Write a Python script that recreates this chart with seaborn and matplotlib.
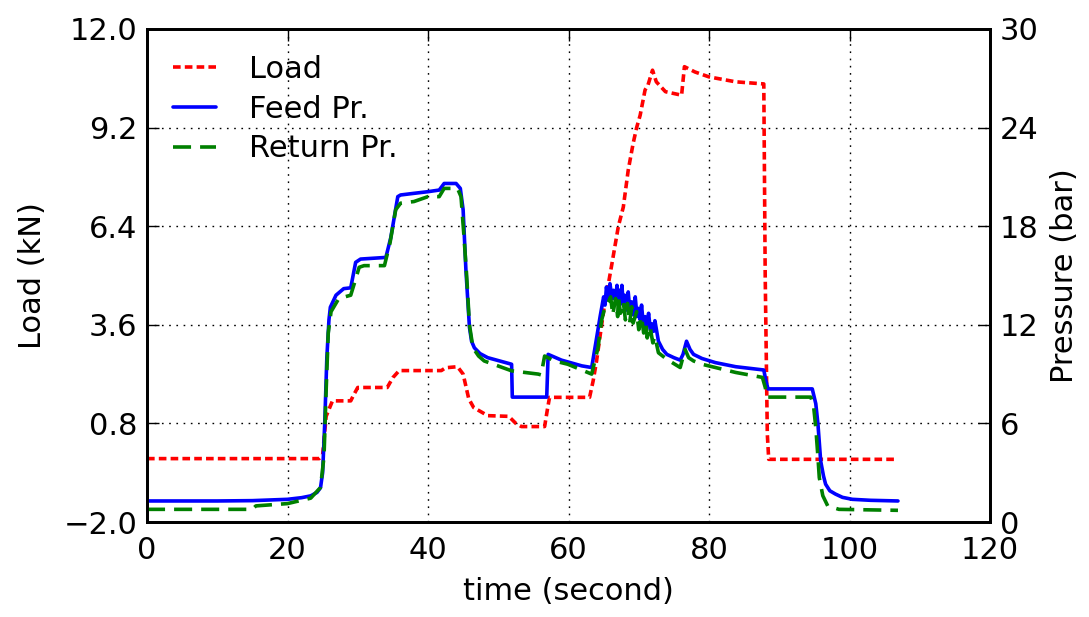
import numpy as np
import pandas as pd
import matplotlib
matplotlib.use("Agg")
import matplotlib.pyplot as plt
import seaborn as sns
from matplotlib.lines import Line2D

# ---------------- data ----------------
load_t = [0, 24.5, 25.0, 25.5, 26.4, 29.0, 29.4, 30.0, 34.2, 35.0, 35.9, 41.9, 42.5, 44.2,
          45.0, 45.8, 46.5, 48.5, 51.5, 52.5, 53.3, 56.6, 57.0, 57.3, 63.0, 63.5, 64.0,
          65.0, 66.1, 67.1, 67.8, 68.5, 69.2, 69.7, 70.2, 70.9, 71.3, 71.96, 72.5, 73.8,
          76.1, 76.5, 78.0, 80.0, 83.8, 87.8, 88.0, 88.3, 88.5, 106.6]
load_kn = [-0.2, -0.2, -0.1, 1.0, 1.44, 1.44, 1.6, 1.82, 1.82, 2.1, 2.30, 2.30, 2.38, 2.41,
           2.2, 1.5, 1.25, 1.02, 1.0, 0.8, 0.71, 0.71, 1.2, 1.54, 1.54, 2.0, 2.58,
           4.0, 5.24, 6.4, 6.94, 7.99, 8.75, 9.2, 9.55, 10.27, 10.4, 10.83, 10.5, 10.22,
           10.12, 10.93, 10.78, 10.64, 10.50, 10.44, 5.0, 0.5, -0.22, -0.22]

feed_t = [0, 10, 15, 20, 22, 23.3, 24.2, 24.7, 25.0, 25.3, 25.6, 25.9, 26.1, 26.9, 28.0,
          29.0, 29.7, 30.4, 34.0, 34.7, 35.7, 36.1, 38.0, 40.0, 41.6, 42.3, 44.0, 44.6,
          45.0, 45.4, 45.9, 46.2, 46.6, 47.4, 48.5, 51.9, 52.0, 56.9, 57.1, 59.0, 61.9, 63.3,
          64.0, 64.5, 65.0, 65.2, 65.4, 65.7, 65.9, 66.2, 66.4, 66.7, 66.9, 67.1, 67.3,
          67.45, 67.6, 67.8, 68.0, 68.25, 68.5, 68.75, 69.0, 69.25, 69.5, 69.75, 70.0,
          70.2, 70.4, 70.65, 70.9, 71.15, 71.4, 71.65, 71.9, 72.1, 72.3, 72.8, 73.4,
          74.0, 75.0, 75.9, 76.3, 76.8, 77.3, 77.8, 79.0, 80.9, 83.8, 87.8, 88.1, 88.4,
          94.7, 95.2, 95.5, 95.9, 96.3, 96.6, 97.2, 98.0, 99.0, 100.4, 103.0, 106.9]
feed_bar = [1.28, 1.28, 1.30, 1.38, 1.48, 1.59, 1.8, 2.09, 3.0, 6.0, 10.0, 12.3, 13.07, 13.8, 14.2,
            14.25, 15.8, 16.0, 16.1, 17.3, 19.8, 19.9, 20.0, 20.1, 20.2, 20.6, 20.6, 20.3,
            19.0, 15.3, 11.85, 11.0, 10.6, 10.25, 10.0, 9.6, 7.6, 7.6, 10.2, 9.85, 9.5, 9.4,
            11.2, 12.5, 13.7, 13.2, 14.3, 13.5, 14.5, 13.6, 14.1, 13.5, 14.4, 13.4, 14.1,
            13.3, 14.4, 13.2, 13.8, 12.9, 14.0, 12.8, 13.4, 12.6, 13.7, 12.5, 13.0,
            12.3, 13.2, 12.0, 12.5, 11.9, 12.7, 11.7, 12.05, 11.6, 12.25, 11.0, 10.5,
            10.2, 10.0, 9.85, 10.2, 11.0, 10.5, 10.2, 9.95, 9.7, 9.45, 9.25, 8.6, 8.1,
            8.1, 7.2, 6.0, 3.7, 2.8, 2.3, 1.9, 1.7, 1.5, 1.38, 1.32, 1.28]

ret_t = [0, 15.0, 15.5, 20, 23.3, 24.7, 25.2, 25.5, 25.8, 26.2, 27.3, 29.0, 29.5, 30.2,
         30.9, 33.8, 34.6, 35.4, 36.1, 38.0, 40.0, 41.6, 42.3, 44.2, 44.7, 45.1, 45.5,
         45.9, 46.4, 47.2, 48.0, 51.9, 55.7, 56.1, 56.6, 58.0, 59.9, 63.3, 64.2, 64.7, 65.2,
         65.7, 66.0, 66.3, 66.7, 67.0, 67.1, 67.4, 67.8, 68.1, 68.4, 68.7, 69.0, 69.2,
         69.7, 70.0, 70.4, 70.7, 71.0, 71.2, 71.6, 72.0, 72.3, 72.8, 74.0, 75.9, 76.6,
         77.1, 77.8, 79.0, 83.8, 87.6, 88.0, 88.3, 94.5, 94.9, 95.2, 95.5, 95.7, 96.2,
         96.9, 98.5, 106.9]
ret_bar = [0.77, 0.77, 0.98, 1.12, 1.45, 2.1, 4.0, 8.0, 11.5, 12.8, 13.6, 13.8, 14.5, 15.5,
           15.6, 15.6, 17.0, 19.0, 19.4, 19.5, 19.8, 19.8, 20.3, 20.3, 19.8, 17.5, 15.0,
           12.0, 10.6, 10.1, 9.8, 9.2, 9.0, 8.95, 10.1, 9.8, 9.6, 9.0, 10.6, 12.25, 13.1,
           13.4, 13.7, 12.6, 13.6, 12.5, 13.7, 12.7, 13.4, 12.3, 13.3, 12.1, 13.1, 12.1,
           12.8, 11.7, 12.5, 11.5, 12.2, 11.2, 11.9, 10.9, 11.3, 10.3, 9.9, 9.4, 10.5,
           10.0, 9.8, 9.6, 9.1, 8.8, 8.2, 7.6, 7.6, 7.0, 5.75, 4.0, 2.7, 1.6,
           0.98, 0.77, 0.71]

load_ticks = [-2.0, 0.8, 3.6, 6.4, 9.2, 12.0]
pres_ticks = [0, 6, 12, 18, 24, 30]
time_ticks = [0, 20, 40, 60, 80, 100, 120]
labels = ["Load", "Feed Pr.", "Return Pr."]

# ---------------- style ----------------
sns.set_theme(style="white")
plt.rcParams["font.family"] = ["DejaVu Sans"]
plt.rcParams["text.color"] = "black"
plt.rcParams["axes.labelcolor"] = "black"
plt.rcParams["lines.scale_dashes"] = False
FS = 22

fig = plt.figure(figsize=(10.89, 6.17), dpi=100)
ax = fig.add_axes([147 / 1089, 1 - 522 / 617, (990 - 147) / 1089, (522 - 29) / 617])
ax2 = ax.twinx()

load_df = pd.DataFrame({"t": load_t, "v": load_kn})
feed_df = pd.DataFrame({"t": feed_t, "v": feed_bar})
ret_df = pd.DataFrame({"t": ret_t, "v": ret_bar})

LW = 2.6
red_ls = (0, (5.5, 3.0))
green_ls = (0, (13.0, 6.5))

sns.lineplot(data=load_df, x="t", y="v", ax=ax, color="red", linewidth=LW,
             sort=False, estimator=None, linestyle=red_ls)
sns.lineplot(data=feed_df, x="t", y="v", ax=ax2, color="blue", linewidth=LW,
             sort=False, estimator=None)
sns.lineplot(data=ret_df, x="t", y="v", ax=ax2, color="green", linewidth=LW,
             sort=False, estimator=None, linestyle=green_ls)

ax.set_xlim(0, 120)
ax.set_ylim(-2.0, 12.0)
ax2.set_ylim(0, 30)
ax.set_xticks(time_ticks)
ax.set_yticks(load_ticks)
ax.set_yticklabels([f"{v:.1f}".replace("-", "\u2212") for v in load_ticks])
ax2.set_yticks(pres_ticks)

ax.grid(True, color="black", linestyle=(0, (1.2, 4.0)), linewidth=1.0)
ax2.grid(False)

for a in (ax, ax2):
    for s in a.spines.values():
        s.set_color("black")
        s.set_linewidth(2.0)
ax.tick_params(axis="both", which="major", direction="in", length=8.5, width=1.0,
               colors="black", labelsize=FS, pad=7, top=True, labeltop=False)
ax.tick_params(axis="x", pad=10)
ax.tick_params(axis="y", right=False)
ax2.tick_params(axis="y", direction="in", length=8.5, width=1.0, colors="black",
                labelsize=FS, pad=7, right=True, left=False)

ax.set_xlabel("time (second)", fontsize=FS, color="black", labelpad=9)
ax.set_ylabel("Load (kN)", fontsize=FS, color="black", labelpad=12)
ax2.set_ylabel("Pressure (bar)", fontsize=FS, color="black", labelpad=8)

handles = [Line2D([], [], color="red", lw=LW, linestyle=red_ls),
           Line2D([], [], color="blue", lw=LW),
           Line2D([], [], color="green", lw=LW, linestyle=green_ls)]
ax2.legend(handles, labels, loc="upper left", frameon=False, fontsize=FS,
           handlelength=1.4, handletextpad=1.1, labelspacing=0.35,
           borderaxespad=0.3, borderpad=0.55)

fig.savefig("out.png", dpi=100)
